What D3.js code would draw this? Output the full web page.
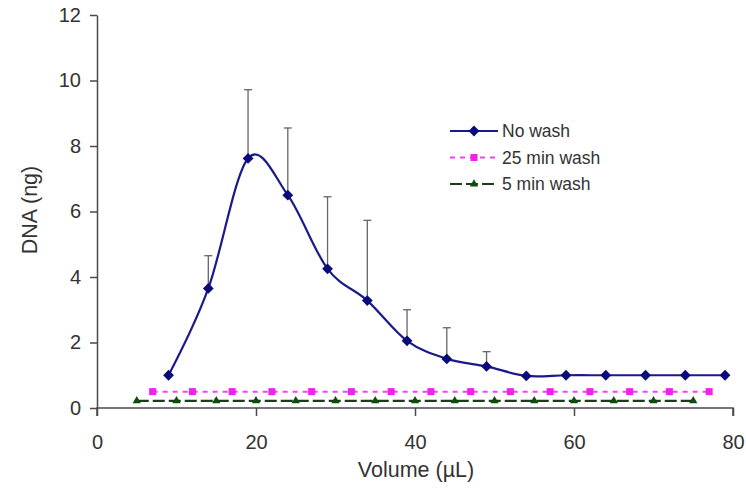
<!DOCTYPE html>
<html>
<head>
<meta charset="utf-8">
<script src="https://cdn.jsdelivr.net/npm/d3@7"></script>
<style>
  body { margin: 0; background: #fff; }
  text { font-family: "Liberation Sans", Arial, sans-serif; fill: #333; }
</style>
</head>
<body>
<div id="chart"></div>
<script>
var noWashX = [9, 14, 19, 24, 29, 34, 39, 44, 49, 54, 59, 64, 69, 74, 79];
var noWashY = [1.0, 3.65, 7.62, 6.5, 4.25, 3.28, 2.05, 1.5, 1.27, 0.98, 1.0, 1.0, 1.0, 1.0, 1.0];
var noWashErr = [0, 1.0, 2.1, 2.05, 2.2, 2.45, 0.95, 0.95, 0.45, 0, 0, 0, 0, 0, 0];
var wash25X = [7, 12, 17, 22, 27, 32, 37, 42, 47, 52, 57, 62, 67, 72, 77];
var wash25Y = [0.5, 0.5, 0.5, 0.5, 0.5, 0.5, 0.5, 0.5, 0.5, 0.5, 0.5, 0.5, 0.5, 0.5, 0.5];
var wash5X = [5, 10, 15, 20, 25, 30, 35, 40, 45, 50, 55, 60, 65, 70, 75];
var wash5Y = [0.22, 0.22, 0.22, 0.22, 0.22, 0.22, 0.22, 0.22, 0.22, 0.22, 0.22, 0.22, 0.22, 0.22, 0.22];
var xTicks = [0, 20, 40, 60, 80];
var yTicks = [0, 2, 4, 6, 8, 10, 12];
var seriesNames = ["No wash", "25 min wash", "5 min wash"];

var svgWidth = 746;
var svgHeight = 488;
var margin = { top: 15, right: 13, bottom: 80, left: 97 };
var width = svgWidth - margin.left - margin.right;
var height = svgHeight - margin.top - margin.bottom;

var svg = d3.select("#chart")
  .append("svg")
  .attr("width", svgWidth)
  .attr("height", svgHeight);

var chartGroup = svg.append("g")
  .attr("transform", `translate(${margin.left}, ${margin.top})`);

var x = d3.scaleLinear().domain([0, 80]).range([0, width]);
var y = d3.scaleLinear().domain([0, 12]).range([height, 0]);

var axisColor = "#4a4a4a";

var bottomAxis = d3.axisBottom(x).tickValues(xTicks).tickSize(8).tickPadding(19).tickSizeOuter(8);
var leftAxis = d3.axisLeft(y).tickValues(yTicks).tickSize(7).tickPadding(9).tickSizeOuter(0);

var gx = chartGroup.append("g")
  .attr("transform", `translate(0, ${height})`)
  .call(bottomAxis);
var gy = chartGroup.append("g").call(leftAxis);

[gx, gy].forEach(function(g) {
  g.selectAll("path, line").attr("stroke", axisColor).attr("stroke-width", 1.5);
  g.selectAll("text")
    .style("font-family", "'Liberation Sans', Arial, sans-serif")
    .style("font-size", "20px")
    .attr("fill", "#333");
});
gx.select(".domain").attr("d", `M0,${8}V0H${width}V8`);

// error bars
var errData = noWashX.map((d, i) => ({ x: d, y: noWashY[i], e: noWashErr[i] })).filter(d => d.e > 0);
var eb = chartGroup.selectAll(".err").data(errData).enter().append("g").attr("class", "err");
eb.append("line")
  .attr("x1", d => x(d.x)).attr("x2", d => x(d.x))
  .attr("y1", d => y(d.y)).attr("y2", d => y(d.y + d.e))
  .attr("stroke", "#666").attr("stroke-width", 1.3);
eb.append("line")
  .attr("x1", d => x(d.x) - 4).attr("x2", d => x(d.x) + 4)
  .attr("y1", d => y(d.y + d.e)).attr("y2", d => y(d.y + d.e))
  .attr("stroke", "#666").attr("stroke-width", 1.3);

// 5 min wash
var wash5 = wash5X.map((d, i) => ({ x: d, y: wash5Y[i] }));
chartGroup.append("path")
  .datum(wash5)
  .attr("fill", "none")
  .attr("stroke", "#1c3a1c")
  .attr("stroke-width", 2.2)
  .attr("stroke-dasharray", "12,4")
  .attr("d", d3.line().x(d => x(d.x)).y(d => y(d.y)));
var tri = d3.symbol().type(d3.symbolTriangle).size(30);
chartGroup.selectAll(".tri").data(wash5).enter().append("path")
  .attr("transform", d => `translate(${x(d.x)}, ${y(d.y)})`)
  .attr("d", tri)
  .attr("fill", "#0b4d0b");

// 25 min wash
var wash25 = wash25X.map((d, i) => ({ x: d, y: wash25Y[i] }));
chartGroup.append("path")
  .datum(wash25)
  .attr("fill", "none")
  .attr("stroke", "#ee44ee")
  .attr("stroke-width", 2)
  .attr("stroke-dasharray", "5,5")
  .attr("d", d3.line().x(d => x(d.x)).y(d => y(d.y)));
chartGroup.selectAll(".sq").data(wash25).enter().append("rect")
  .attr("x", d => x(d.x) - 3.5).attr("y", d => y(d.y) - 3.5)
  .attr("width", 7).attr("height", 7)
  .attr("fill", "#ee22ee");

// no wash
var noWash = noWashX.map((d, i) => ({ x: d, y: noWashY[i] }));
chartGroup.append("path")
  .datum(noWash)
  .attr("fill", "none")
  .attr("stroke", "#1a1a8c")
  .attr("stroke-width", 2.2)
  .attr("d", d3.line().curve(d3.curveCatmullRom.alpha(0)).x(d => x(d.x)).y(d => y(d.y)));
var diamond = d3.symbol().type(d3.symbolSquare).size(58);
chartGroup.selectAll(".dia").data(noWash).enter().append("path")
  .attr("transform", d => `translate(${x(d.x)}, ${y(d.y)}) rotate(45)`)
  .attr("d", diamond)
  .attr("fill", "#0a0a7a");

// legend
var legend = svg.append("g").attr("transform", "translate(450, 131)");
var rowGap = 26.5;
var lg0 = legend.append("g");
lg0.append("line").attr("x1", 0).attr("x2", 48).attr("stroke", "#1a1a8c").attr("stroke-width", 2.2);
lg0.append("path").attr("transform", "translate(24,0) rotate(45)").attr("d", diamond).attr("fill", "#0a0a7a");
var lg1 = legend.append("g").attr("transform", `translate(0, ${rowGap})`);
lg1.append("line").attr("x1", 0).attr("x2", 48).attr("stroke", "#ee44ee").attr("stroke-width", 2).attr("stroke-dasharray", "5,5");
lg1.append("rect").attr("x", 20.5).attr("y", -3.5).attr("width", 7).attr("height", 7).attr("fill", "#ee22ee");
var lg2 = legend.append("g").attr("transform", `translate(0, ${rowGap * 2})`);
lg2.append("line").attr("x1", 0).attr("x2", 48).attr("stroke", "#1c3a1c").attr("stroke-width", 2.2).attr("stroke-dasharray", "12,4");
lg2.append("path").attr("transform", "translate(24,0)").attr("d", tri).attr("fill", "#0b4d0b");
legend.selectAll(".lt").data(seriesNames).enter().append("text")
  .attr("x", 52).attr("y", (d, i) => i * rowGap).attr("dy", "0.35em")
  .style("font-size", "17.5px")
  .text(d => d);

// axis titles
svg.append("text")
  .attr("transform", "rotate(-90)")
  .attr("x", -210).attr("y", 37)
  .attr("text-anchor", "middle")
  .style("font-size", "21.5px")
  .text("DNA (ng)");
svg.append("text")
  .attr("x", 416).attr("y", 477)
  .attr("text-anchor", "middle")
  .style("font-size", "21.5px")
  .text("Volume (µL)");
</script>
</body>
</html>
